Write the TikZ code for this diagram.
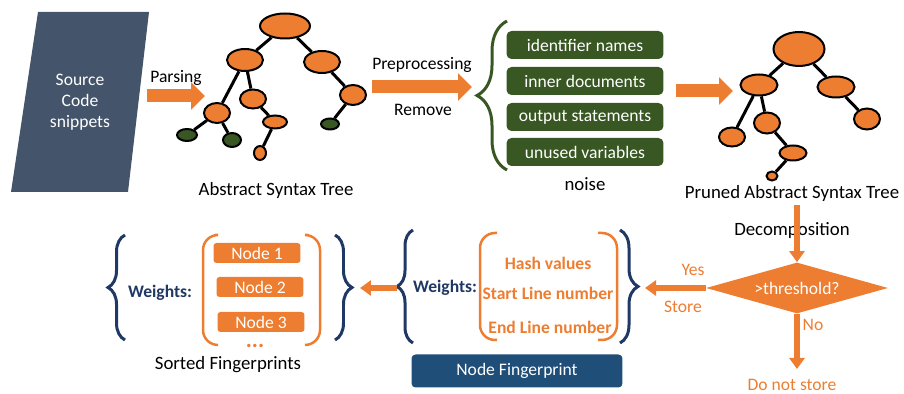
\documentclass[tikz,border=0pt]{standalone}
\usepackage{fontspec}
\setmainfont{Carlito}
\usetikzlibrary{shapes.geometric,arrows.meta,decorations.pathreplacing}

\definecolor{ppOrange}{HTML}{ED7D31}
\definecolor{ppGreen}{HTML}{385723}
\definecolor{ppSlate}{HTML}{44546A}
\definecolor{ppNavy}{HTML}{203864}
\definecolor{ppBlue}{HTML}{1F4E79}

\tikzset{
  astnode/.style={ellipse, draw=black, line width=0.04cm, fill=ppOrange, inner sep=0pt},
  leaf/.style={ellipse, draw=black, line width=0.04cm, fill=ppGreen, inner sep=0pt},
  astedge/.style={line width=0.06cm},
  blockarrow/.style={ppOrange, line width=0.26cm, -{Triangle[length=0.28cm,width=0.54cm]}},
  thinarrow/.style={ppOrange, line width=0.13cm, -{Triangle[length=0.22cm,width=0.3cm]}},
  noisebox/.style={rounded corners=0.1cm, fill=ppGreen, text=white, minimum width=3.14cm, minimum height=0.56cm},
  fpbox/.style={rounded corners=0.06cm, fill=ppOrange, text=white, minimum width=1.74cm, minimum height=0.4cm, inner sep=0pt},
  wbrace/.style={line width=0.06cm, decorate, decoration={brace, amplitude=#1}},
  paren/.style={ppOrange, line width=0.05cm, rounded corners=0.3cm},
  caption/.style={font=\fontsize{10.7}{13}\selectfont},
  weight/.style={text=ppNavy, font=\fontsize{10}{12}\selectfont\bfseries},
  field/.style={text=ppOrange, font=\fontsize{10}{12}\selectfont\bfseries},
}

\begin{document}
\begin{tikzpicture}[x=0.02cm, y=-0.02cm, font=\fontsize{10}{12}\selectfont]
    \useasboundingbox (0,0) rectangle (904,394);

    % source code
    \fill[ppSlate] (38,12) -- (149,12) -- (128,192) -- (11,192) -- cycle;
    \node[align=center, text=white] (src) at (80,102) {Source\\Code\\snippets};

    \coordinate (parseA) at (147,96);
    \coordinate (parseB) at (205,96);
    \draw[blockarrow] (parseA) -- (parseB);
    \node (parsing) at (176,78) {Parsing};

    % abstract syntax tree
    \node[astnode, minimum width=1cm, minimum height=0.5cm] (a0) at (285,26) {};
    \node[astnode, minimum width=0.72cm, minimum height=0.44cm] (a1) at (245,60) {};
    \node[astnode, minimum width=0.72cm, minimum height=0.44cm] (a2) at (322,62) {};
    \node[astnode, minimum width=0.52cm, minimum height=0.4cm] (a3) at (217,113) {};
    \node[astnode, minimum width=0.52cm, minimum height=0.38cm] (a4) at (253,99) {};
    \node[astnode, minimum width=0.52cm, minimum height=0.4cm] (a5) at (353,95) {};
    \node[astnode, minimum width=0.48cm, minimum height=0.26cm] (a6) at (275,122) {};
    \node[astnode, minimum width=0.24cm, minimum height=0.28cm] (a7) at (260,153) {};
    \node[leaf, minimum width=0.4cm, minimum height=0.24cm] (g1) at (187,135) {};
    \node[leaf, minimum width=0.36cm, minimum height=0.28cm] (g2) at (232,140) {};
    \node[leaf, minimum width=0.36cm, minimum height=0.22cm] (g3) at (330,124) {};
    \foreach \s/\t in {a0/a1, a0/a2, a1/a3, a1/a4, a2/a5, a3/g1, a3/g2, a4/a6, a6/a7, a5/g3}
        \draw[astedge] (\s) -- (\t);
    \node[caption] (astcap) at (276,190) {Abstract Syntax Tree};

    % preprocessing
    \coordinate (preA) at (372,87);
    \coordinate (preB) at (472,87);
    \draw[blockarrow] (preA) -- (preB);
    \node (prep) at (422,65) {Preprocessing};
    \node (remove) at (423,110) {Remove};

    % noise
    \draw[ppGreen, wbrace=0.6cm] (507,170) -- (507,21);
    \node[noisebox] (n1) at (585,45) {identifier names};
    \node[noisebox] (n2) at (585,81) {inner documents};
    \node[noisebox] (n3) at (585,117) {output statements};
    \node[noisebox] (n4) at (585,152) {unused variables};
    \node[caption] (noise) at (585,184) {noise};

    \coordinate (pruneA) at (676,91);
    \coordinate (pruneB) at (733,91);
    \draw[blockarrow] (pruneA) -- (pruneB);

    % pruned tree
    \node[astnode, minimum width=1.02cm, minimum height=0.68cm] (b0) at (799,49) {};
    \node[astnode, minimum width=0.74cm, minimum height=0.42cm] (b1) at (759,85) {};
    \node[astnode, minimum width=0.74cm, minimum height=0.42cm] (b2) at (836,87) {};
    \node[astnode, minimum width=0.52cm, minimum height=0.42cm] (b3) at (867,119) {};
    \node[astnode, minimum width=0.52cm, minimum height=0.38cm] (b4) at (732,137) {};
    \node[astnode, minimum width=0.52cm, minimum height=0.42cm] (b5) at (767,123) {};
    \node[astnode, minimum width=0.54cm, minimum height=0.3cm] (b6) at (793,153) {};
    \node[astnode, minimum width=0.22cm, minimum height=0.18cm] (b7) at (772,176) {};
    \foreach \s/\t in {b0/b1, b0/b2, b2/b3, b1/b4, b1/b5, b5/b6, b6/b7}
        \draw[astedge] (\s) -- (\t);
    \node[caption] (prunedcap) at (792,193) {Pruned Abstract Syntax Tree};

    % threshold
    \node[caption] (decomp) at (792,231) {Decomposition};
    \node[diamond, fill=ppOrange, text=white, inner sep=0pt, aspect=3.57,
          minimum width=3.64cm, minimum height=1.02cm] (thr) at (797,288) {>threshold?};
    \coordinate (decA) at (797,205);
    \draw[thinarrow] (decA) -- (thr.north);
    \coordinate (yesEnd) at (645,288);
    \draw[thinarrow] (thr.west) -- (yesEnd);
    \node[text=ppOrange] (yes) at (693,270) {Yes};
    \node[text=ppOrange] (store) at (683,307) {Store};
    \coordinate (noEnd) at (797,369);
    \draw[thinarrow] (thr.south) -- (noEnd);
    \node[text=ppOrange] (no) at (813,325) {No};
    \node[text=ppOrange] (nostore) at (792,385) {Do not store};

    % node fingerprint
    \draw[ppNavy, wbrace=0.32cm] (413,343) -- (413,230);
    \draw[ppNavy, wbrace=0.36cm] (620,230) -- (620,343);
    \node[weight] (w2) at (445,288) {Weights:};
    \draw[paren] (497,233) -- (480,233) -- (480,340) -- (497,340);
    \draw[paren] (598,233) -- (617,233) -- (617,340) -- (598,340);
    \node[field] (hash) at (548,263) {Hash values};
    \node[field] (start) at (548,293) {Start Line number};
    \node[field] (end) at (550,327) {End Line number};
    \node[rounded corners=0.08cm, fill=ppBlue, text=white, minimum width=4.22cm,
          minimum height=0.66cm] (nfp) at (517,371) {Node Fingerprint};
    \coordinate (sortA) at (397,288);
    \coordinate (sortB) at (360,288);
    \draw[thinarrow] (sortA) -- (sortB);

    % sorted fingerprints
    \draw[ppNavy, wbrace=0.34cm] (125,340) -- (125,235);
    \draw[ppNavy, wbrace=0.34cm] (335,235) -- (335,340);
    \node[weight] (w1) at (160,293) {Weights:};
    \draw[paren] (215,235) -- (203,235) -- (203,345) -- (215,345);
    \draw[paren] (308,235) -- (320,235) -- (320,345) -- (308,345);
    \node[fpbox] (fp1) at (257,253) {Node 1};
    \node[fpbox] (fp2) at (260,287) {Node 2};
    \node[fpbox] (fp3) at (261,322) {Node 3};
    \node[field, inner sep=0pt, font=\fontsize{13}{14}\selectfont\bfseries] (dots) at (255,346) {...};
    \node[caption] (sortcap) at (228,365) {Sorted Fingerprints};
\end{tikzpicture}
\end{document}
